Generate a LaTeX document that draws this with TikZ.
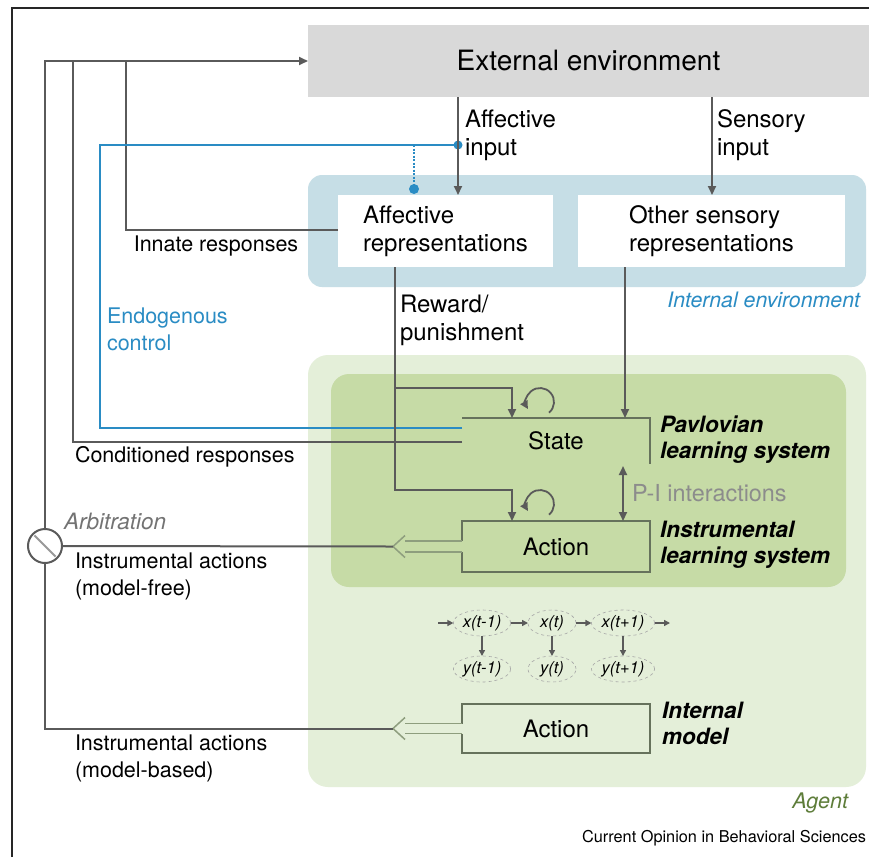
\documentclass[tikz,border=0pt]{standalone}
\usepackage{fontspec}
\setmainfont{TeX Gyre Heros}
\usetikzlibrary{arrows.meta,calc,shapes.geometric}
\definecolor{lineg}{HTML}{5A5A5A}
\definecolor{envgray}{HTML}{D9D9D9}
\definecolor{intblue}{HTML}{C6DEE6}
\definecolor{agentg}{HTML}{E4EFD9}
\definecolor{innerg}{HTML}{C6DBA6}
\definecolor{ctrlblue}{HTML}{2A8CC4}
\definecolor{boxline}{HTML}{66725C}
\definecolor{hollow}{HTML}{8E9E7E}
\definecolor{agenttxt}{HTML}{5E7D3A}
\definecolor{pigray}{HTML}{8C8C8C}
\begin{document}
\begin{tikzpicture}[x=1pt,y=1pt,
  every node/.style={inner sep=0pt, outer sep=0pt, text=black, font=\fontsize{21.5}{27}\selectfont},
  big/.style={font=\fontsize{24}{28}\selectfont},
  gl/.style={draw=lineg, line width=2pt},
  arr/.style={gl, -{Triangle[length=9pt,width=8pt]}},
  bl/.style={draw=ctrlblue, line width=2pt},
  lab/.style={anchor=west, align=left},
  sysl/.style={anchor=west, align=left, font=\fontsize{22.5}{26}\selectfont\bfseries\itshape},
  hm/.style={ellipse, draw=black!35, dashed, line width=0.6pt, minimum width=48pt, minimum height=26pt, inner sep=1pt, font=\fontsize{16.5}{18}\selectfont\itshape},
  harr/.style={draw=lineg, line width=1.5pt, -{Triangle[length=6pt,width=6pt]}},
  bxl/.style={draw=boxline, line width=1.5pt},
  hol/.style={draw=hollow, line width=1.5pt},
]
\useasboundingbox (0,0) rectangle (869,-857);
\fill[white] (0,0) rectangle (869,-857);
% backgrounds
\fill[agentg, rounded corners=20pt] (308,-355) rectangle (866,-787);
\fill[innerg, rounded corners=18pt] (331,-374) rectangle (846,-587);
\fill[intblue, rounded corners=14pt] (308,-175) rectangle (866,-287);
% frame
\draw[line width=2pt, black!85] (12,-857) -- (12,-8) -- (869,-8);

% main nodes
\node[fill=envgray, minimum width=561pt, minimum height=72pt, font=\fontsize{28}{30}\selectfont] (ext) at (588.5,-61) {External environment};
\node[big, fill=white, minimum width=215pt, minimum height=72pt, align=left] (aff) at (445.5,-231) {Affective\\representations};
\node[big, fill=white, minimum width=267pt, minimum height=72pt, align=left] (oth) at (711.5,-231) {Other sensory\\representations};
\node[big, minimum width=188pt, minimum height=46pt] (st) at (556,-441) {State};
\node[big, minimum width=188pt, minimum height=51pt] (mf) at (556,-546.5) {Action};
\node[big, minimum width=188pt, minimum height=49pt] (mb) at (556,-728.5) {Action};
\node[circle, draw=lineg, line width=2pt, minimum size=34pt] (arb) at (45,-546) {};

% box outlines
\draw[bxl] (st.north west) -- (st.north east) -- (st.south east);
\draw[bxl] ($(mf.west)+(0,5.5)$) -- (mf.north west) -- (mf.north east) -- (mf.south east) -- (mf.south west) -- ($(mf.west)+(0,-5.5)$);
\draw[bxl] ($(mb.west)+(0,5)$) -- (mb.north west) -- (mb.north east) -- (mb.south east) -- (mb.south west) -- ($(mb.west)+(0,-5)$);

% hollow arrows
\coordinate (mftip) at ($(mf.west)+(-69,0)$);
\coordinate (mbtip) at ($(mb.west)+(-69,0)$);
\draw[hol] ($(mf.west)+(0,5.5)$) -- ++(-57,0);
\draw[hol] ($(mf.west)+(0,-5.5)$) -- ++(-57,0);
\draw[hol] ($(mftip)+(12,11)$) -- (mftip) -- ($(mftip)+(12,-11)$);
\draw[hol] ($(mb.west)+(0,5)$) -- ++(-57,0);
\draw[hol] ($(mb.west)+(0,-5)$) -- ++(-57,0);
\draw[hol] ($(mbtip)+(12,11)$) -- (mbtip) -- ($(mbtip)+(12,-11)$);

% arbitration
\draw[black!40, line width=2pt] ($(arb.center)+(135:15)$) -- ($(arb.center)+(-45:15)$);
\draw[gl] (mftip) -- (arb.east);
\draw[gl] (mbtip) -| (arb.south);
\draw[arr] (arb.north) |- (ext.west);

% responses
\draw[gl] ($(st.west)+(0,-1)$) -| (73,-61);
\draw[gl] ($(aff.west)+(0,1)$) -| (126,-61);

% endogenous control
\draw[bl] ($(st.west)+(0,13)$) -| (100,-145) -- (458,-145);
\fill[ctrlblue] (458,-145) circle (4.5pt);
\draw[bl, dash pattern=on 2pt off 1.5pt, line width=1.8pt] (414,-145) -- (414,-186);
\fill[ctrlblue] (414,-189) circle (5pt);

% inputs
\coordinate (ax) at (458,0);
\coordinate (sx) at (712,0);
\draw[arr] (ext.south -| ax) -- (aff.north -| ax);
\draw[arr] (ext.south -| sx) -- (oth.north -| sx);

% reward
\coordinate (rx) at (395,0);
\coordinate (lx) at (512,0);
\coordinate (ox) at (625,0);
\coordinate (px) at (623,0);
\draw[arr] (aff.south -| rx) |- ($(lx)+(0,-490)$) -- (mf.north -| lx);
\draw[arr] ($(rx)+(0,-388)$) -| (st.north -| lx);
\draw[arr] (oth.south -| ox) -- (st.north -| ox);
\draw[gl, {Triangle[length=9pt,width=8pt]}-{Triangle[length=9pt,width=8pt]}] ($(st.south -| px)+(0,-2)$) -- (mf.north -| px);

% self loops
\draw[gl, line width=1.8pt, -{Triangle[length=8pt,width=8pt]}] ([shift={(-50:14pt)}]540,-402) arc[start angle=-50, end angle=210, radius=14pt];
\draw[gl, line width=1.8pt, -{Triangle[length=8pt,width=8pt]}] ([shift={(-50:14pt)}]540,-504) arc[start angle=-50, end angle=210, radius=14pt];

% HMM
\node[hm] (x1) at (482,-623) {x(t-1)};
\node[hm] (x2) at (552,-623) {x(t)};
\node[hm] (x3) at (623,-623) {x(t+1)};
\node[hm] (y1) at (482,-669) {y(t-1)};
\node[hm] (y2) at (552,-669) {y(t)};
\node[hm] (y3) at (623,-669) {y(t+1)};
\coordinate (hin) at (438,-623);
\coordinate (hout) at (670,-623);
\draw[harr] (hin) -- (x1);
\draw[harr] (x1) -- (x2);
\draw[harr] (x2) -- (x3);
\draw[harr] (x3) -- (hout);
\draw[harr] (x1) -- (y1);
\draw[harr] (x2) -- (y2);
\draw[harr] (x3) -- (y3);

% labels
\node[lab, big] at (465,-135) {Affective\\input};
\node[lab, big] at (717,-135) {Sensory\\input};
\node[lab, big] at (400,-320) {Reward/\\punishment};
\node at (216,-246) {Innate responses};
\node[lab, text=ctrlblue] at (107,-329) {Endogenous\\control};
\node[lab] at (75,-457) {Conditioned responses};
\node[lab, text=black!55, font=\fontsize{22.5}{27}\selectfont\itshape] at (64,-521) {Arbitration};
\node[lab] at (75,-576) {Instrumental actions\\(model-free)};
\node[lab] at (75,-758) {Instrumental actions\\(model-based)};
\node[anchor=east, text=ctrlblue, font=\fontsize{21.3}{24}\selectfont\itshape] at (860,-300) {Internal environment};
\node[anchor=east, text=agenttxt, font=\fontsize{21.5}{24}\selectfont\itshape] at (848,-803) {Agent};
\node[anchor=east, font=\fontsize{16.3}{18}\selectfont] at (866,-838) {Current Opinion in Behavioral Sciences};
\node[lab, text=pigray, font=\fontsize{23.4}{27}\selectfont] at (632,-493) {P-I interactions};
\node[sysl] at (660,-440) {Pavlovian\\learning system};
\node[sysl] at (660,-545) {Instrumental\\learning system};
\node[sysl] at (662,-723) {Internal\\model};
\end{tikzpicture}
\end{document}
